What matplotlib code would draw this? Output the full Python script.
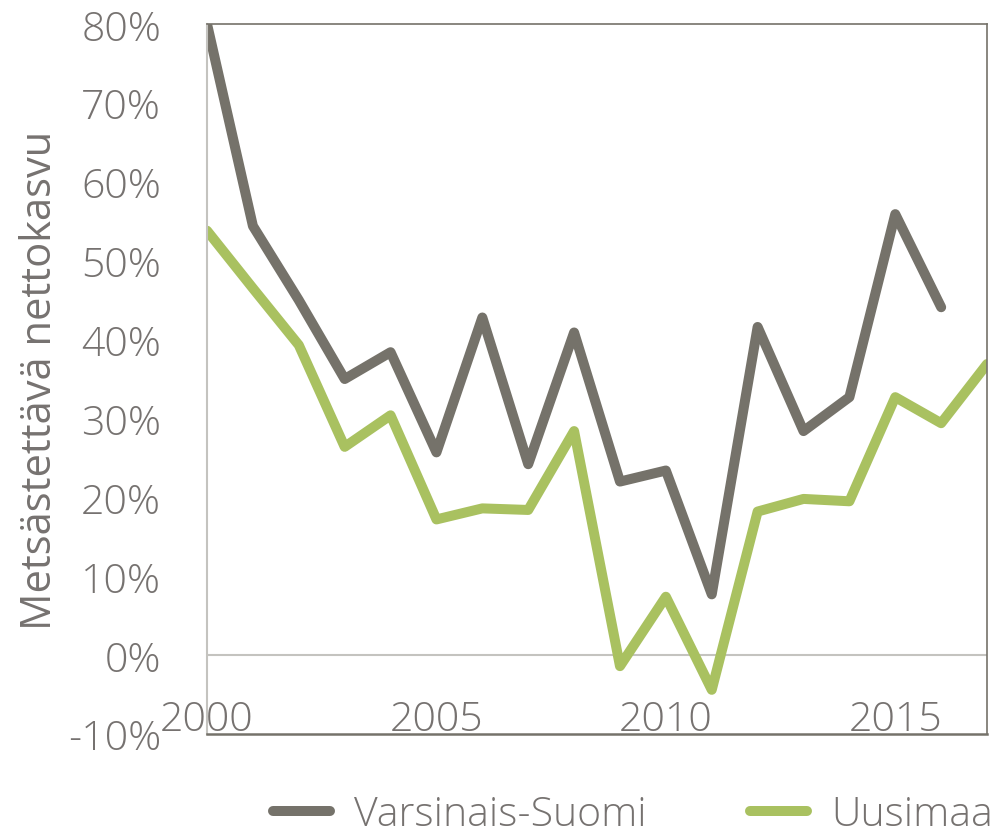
import matplotlib
matplotlib.use("Agg")
import matplotlib.pyplot as plt
from matplotlib.ticker import FuncFormatter

# Daten
vuodet = list(range(2000, 2018))
varsinais_suomi = [80.0, 54.4, 45.0, 35.0, 38.4, 25.7, 42.8, 24.2, 40.9, 22.0,
                   23.4, 7.7, 41.6, 28.4, 32.7, 55.9, 44.1]
uusimaa = [53.8, 46.5, 39.3, 26.4, 30.4, 17.2, 18.6, 18.4, 28.4, -1.4,
           7.4, -4.4, 18.2, 19.8, 19.5, 32.7, 29.4, 36.9]
y_ticks = [-10, 0, 10, 20, 30, 40, 50, 60, 70, 80]
x_ticks = [2000, 2005, 2010, 2015]

harmaa = "#75726a"
vihrea = "#a9c160"
teksti = "#767270"
vaalea = "#c4c3bf"

plt.rcParams["font.family"] = ["Open Sans", "DejaVu Sans"]
plt.rcParams["font.weight"] = "light"

fig = plt.figure(figsize=(9.92, 8.29), dpi=100)
ax = fig.add_axes([0.2087, 0.1134, 0.7863, 0.8564])

ax.plot(vuodet[:len(varsinais_suomi)], varsinais_suomi, color=harmaa, lw=7.2,
        solid_capstyle="round", solid_joinstyle="round", label="Varsinais-Suomi")
ax.plot(vuodet[:len(uusimaa)], uusimaa, color=vihrea, lw=7.2,
        solid_capstyle="round", solid_joinstyle="round", label="Uusimaa")
ax.axhline(0, color=vaalea, lw=1.5, zorder=0)

ax.set_xlim(2000, 2017)
ax.set_ylim(-10, 80)
ax.set_yticks(y_ticks)
ax.set_xticks(x_ticks)
ax.yaxis.set_major_formatter(FuncFormatter(lambda v, p: f"{v:.0f}%"))

ax.tick_params(axis="y", length=0, pad=33, labelsize=29.5, labelcolor=teksti)
ax.tick_params(axis="x", length=0, pad=-25, labelsize=29.5, labelcolor=teksti)

ax.spines["left"].set_color(vaalea)
ax.spines["left"].set_linewidth(1.5)
ax.spines["bottom"].set_color(harmaa)
ax.spines["bottom"].set_linewidth(1.8)
for s in ["top", "right"]:
    ax.spines[s].set_color(harmaa)
    ax.spines[s].set_linewidth(1.2)

ax.set_ylabel("Metsästettävä nettokasvu", fontsize=30, color=teksti, labelpad=5)

fig.legend(loc="center", bbox_to_anchor=(0.638, 0.016), ncol=2, frameon=False,
           fontsize=29.5, labelcolor=teksti, handlelength=1.4, handletextpad=0.6,
           columnspacing=2.5)

fig.savefig("out.png", dpi=100)
